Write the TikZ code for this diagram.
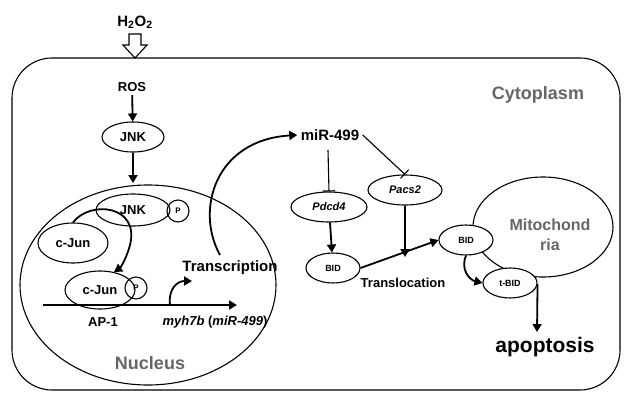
\documentclass[tikz,border=0pt]{standalone}
\usepackage{fontspec}
\setmainfont{Liberation Sans}
\usetikzlibrary{arrows.meta,shapes.geometric}
\begin{document}
\begin{tikzpicture}[x=1pt,y=-1pt,
  arr/.style={line width=1.8pt,-{Triangle[length=8pt,width=9pt]}},
  inh/.style={line width=1.1pt,-{Bar[width=12pt]}},
  lbl/.style={font=\bfseries\fontsize{13}{15}\selectfont},
  ob/.style={draw,ellipse,line width=1.1pt,inner sep=0pt},
  gry/.style={font=\bfseries\fontsize{18}{20}\selectfont,text=black!60}]
\useasboundingbox (0,0) rectangle (633,405);
\node[draw,rounded corners=40pt,line width=1.1pt,minimum width=608pt,minimum height=332pt] (cell) at (316,224) {};
\node[font=\bfseries\fontsize{15}{17}\selectfont] (h2o2) at (135,22) {H$_\mathbf{2}$O$_\mathbf{2}$};
\node[lbl] (ros) at (132,87) {ROS};
\draw[line width=1.1pt,fill=white] (129,34) -- (141,34) -- (141,45) -- (147,45) -- (135,58) -- (123,45) -- (129,45) -- cycle;
\node[gry] (cyto) at (538,95) {Cytoplasm};
\node[ob,minimum width=62pt,minimum height=30pt,lbl] (jnk) at (133,137) {JNK};
\draw[arr] (ros) -- (jnk);
\node[ob,minimum width=256pt,minimum height=200pt] (nuc) at (148,285) {};
\draw[arr] (jnk) -- (133,183) coordinate (nt);
\node[gry] (nl) at (150,363) {Nucleus};
\node[ob,minimum width=74pt,minimum height=32pt,lbl] (jnk2) at (133,210) {JNK};
\node[draw,circle,line width=1.1pt,minimum size=22pt,inner sep=0pt,font=\bfseries\fontsize{8}{8}\selectfont] (p1) at (178,211) {P};
\node[ob,minimum width=70pt,minimum height=40pt,lbl] (cjun) at (73,243) {c-Jun};
\node[ob,minimum width=70pt,minimum height=38pt,lbl] (cjunp) at (100,290) {c-Jun};
\node[draw,circle,line width=1.1pt,minimum size=22pt,inner sep=0pt,font=\bfseries\fontsize{8}{8}\selectfont] (p2) at (136,288) {P};
\draw[arr] (cjun.north) .. controls (90,200) and (140,205) .. (130,245) .. controls (126,260) and (120,268) .. (114,272);
\coordinate (g1) at (43,305); \coordinate (g2) at (237,305);
\draw[arr] (g1) -- (g2);
\node[lbl] (ap1) at (103,322) {AP-1};
\node[lbl] (gene) at (215,322) {\itshape myh7b \upshape(\itshape miR-499\upshape)};
\coordinate (b0) at (170,305);
\draw[arr] (b0) .. controls (168,288) and (178,281) .. (192,281);
\node[font=\bfseries\fontsize{15}{17}\selectfont] (tr) at (230,268) {Transcription};
\node[font=\bfseries\fontsize{15}{17}\selectfont] (mir) at (330,135) {miR-499};
\draw[arr] (220,255) .. controls (195,210) and (215,140) .. (mir.west);
\node[ob,minimum width=76pt,minimum height=30pt,font=\bfseries\itshape\fontsize{11}{13}\selectfont] (pdcd) at (329,207) {Pdcd4};
\node[ob,minimum width=74pt,minimum height=30pt,font=\bfseries\itshape\fontsize{11}{13}\selectfont] (pacs) at (405,190) {Pacs2};
\draw[inh] (328,150) -- (pdcd.north);
\draw[inh] (mir.east) -- (pacs.north);
\node[ob,minimum width=54pt,minimum height=30pt,font=\bfseries\fontsize{9}{11}\selectfont] (bid1) at (333,268) {BID};
\draw[arr] (pdcd) -- (bid1);
\node[ob,minimum width=140pt,minimum height=100pt] (mito) at (543,227) {};
\node[ob,minimum width=54pt,minimum height=30pt,font=\bfseries\fontsize{9}{11}\selectfont,fill=white] (bid2) at (466,240) {BID};
\node[ob,minimum width=54pt,minimum height=30pt,font=\bfseries\fontsize{9}{11}\selectfont,fill=white] (tbid) at (510,283) {t-BID};
\node[font=\bfseries\fontsize{16}{20}\selectfont,text=black!60,align=center] (ml) at (550,235) {Mitochond\\ria};
\draw[arr] (bid1.east) -- (bid2.west);
\draw[arr] (pacs) -- (405,257);
\node[lbl] (trl) at (403,283) {Translocation};
\draw[arr] (bid2.south) .. controls (460,270) and (470,280) .. (tbid.west);
\node[font=\bfseries\fontsize{21}{24}\selectfont] (apo) at (545,347) {apoptosis};
\draw[arr] (tbid.east) ++(0,1) -- (537,332);
\end{tikzpicture}
\end{document}
